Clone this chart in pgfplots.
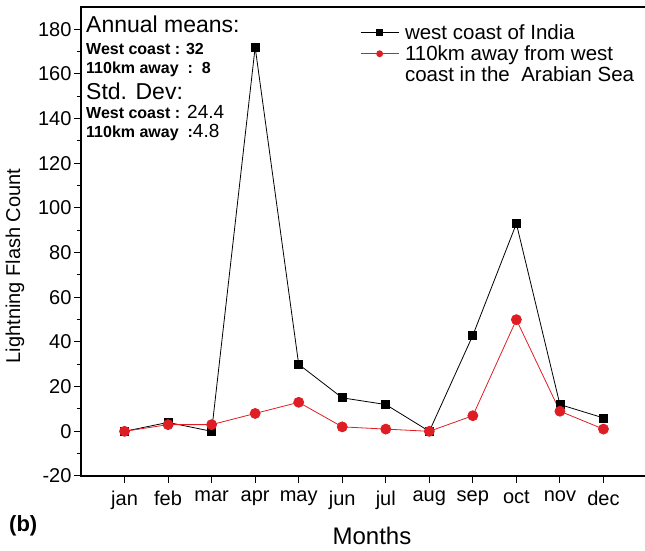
\documentclass[border=0pt]{standalone}
\usepackage{pgfplots}
\pgfplotsset{compat=1.18}
\usepackage{fontspec}
\setmainfont{Liberation Sans}
\definecolor{myred}{RGB}{222,30,36}

\begin{document}
\begin{tikzpicture}
\begin{axis}[
    at={(0,0)}, anchor=south west,
    scale only axis, width=566pt, height=469pt,
    xmin=0, xmax=13, ymin=-20, ymax=190,
    xtick={1,...,12},
    xticklabels={jan,feb,mar,apr,may,jun,jul,aug,sep,oct,nov,dec},
    ytick={-20,0,20,40,60,80,100,120,140,160,180},
    minor y tick num=1,
    tick pos=left, tick align=outside,
    major tick length=7pt, minor tick length=4pt,
    every tick/.style={black, line width=1pt},
    axis line style={line width=1.2pt},
    /pgf/number format/assume math mode=true,
    ticklabel style={font=\fontsize{20}{22}\selectfont},
    yticklabel style={xshift=1pt},
    xticklabel style={yshift=-4pt},
    xlabel={Months},
    xlabel style={at={(axis description cs:0.514,-0.147)}, anchor=base,
        font=\fontsize{24}{26}\selectfont},
    ylabel={Lightning Flash Count},
    ylabel style={at={(axis description cs:-0.1166,0.448)}, anchor=center,
        font=\fontsize{20}{22}\selectfont},
    legend style={draw=none, fill=none, at={(axis description cs:0.493,0.968)},
        anchor=north west, inner sep=0pt, row sep=1pt,
        /tikz/every odd column/.append style={column sep=4pt},
        font=\fontsize{20.5}{22}\selectfont},
    legend cell align=left,
    legend image code/.code={
        \draw[mark repeat=2, mark phase=2, #1, mark size=3pt]
        plot coordinates {(0pt,0pt) (19pt,0pt) (38pt,0pt)};},
]
\addplot[black, line width=0.8pt, mark=square*, mark size=4pt] coordinates {
    (1,0) (2,4) (3,0) (4,172) (5,30) (6,15)
    (7,12) (8,0) (9,43) (10,93) (11,12) (12,6)
};
\addlegendentry{west coast of India}
\addplot[myred, line width=0.8pt, mark=*, mark size=5pt] coordinates {
    (1,0) (2,3) (3,3) (4,8) (5,13) (6,2)
    (7,1) (8,0) (9,7) (10,50) (11,9) (12,1)
};
\addlegendentry{110km away from west}
\addlegendimage{empty legend}
\addlegendentry{coast in the\ \ Arabian Sea}
\end{axis}

\node[anchor=base west, inner sep=0pt, font=\fontsize{23}{25}\selectfont] at (5pt,443pt) {Annual means:};
\node[anchor=base west, inner sep=0pt, font=\bfseries\fontsize{16}{18}\selectfont] at (5pt,421pt) {West coast : 32};
\node[anchor=base west, inner sep=0pt, font=\bfseries\fontsize{16}{18}\selectfont] at (5pt,402pt) {110km away\ \ :\ \ 8};
\node[anchor=base west, inner sep=0pt, font=\fontsize{23}{25}\selectfont] at (5pt,376pt) {Std. Dev:};
\node[anchor=base west, inner sep=0pt, font=\fontsize{19}{21}\selectfont] at (5pt,357pt) {{\bfseries\fontsize{16}{18}\selectfont West coast :} 24.4};
\node[anchor=base west, inner sep=0pt, font=\fontsize{19}{21}\selectfont] at (5pt,338pt) {{\bfseries\fontsize{16}{18}\selectfont 110km away\ \ :}4.8};
\node[anchor=base west, inner sep=0pt, font=\bfseries\fontsize{22}{24}\selectfont] at (-72pt,-56pt) {(b)};

\pgfresetboundingbox
\path[use as bounding box] (-81pt,-75pt) rectangle (564pt,476pt);
\end{tikzpicture}
\end{document}
